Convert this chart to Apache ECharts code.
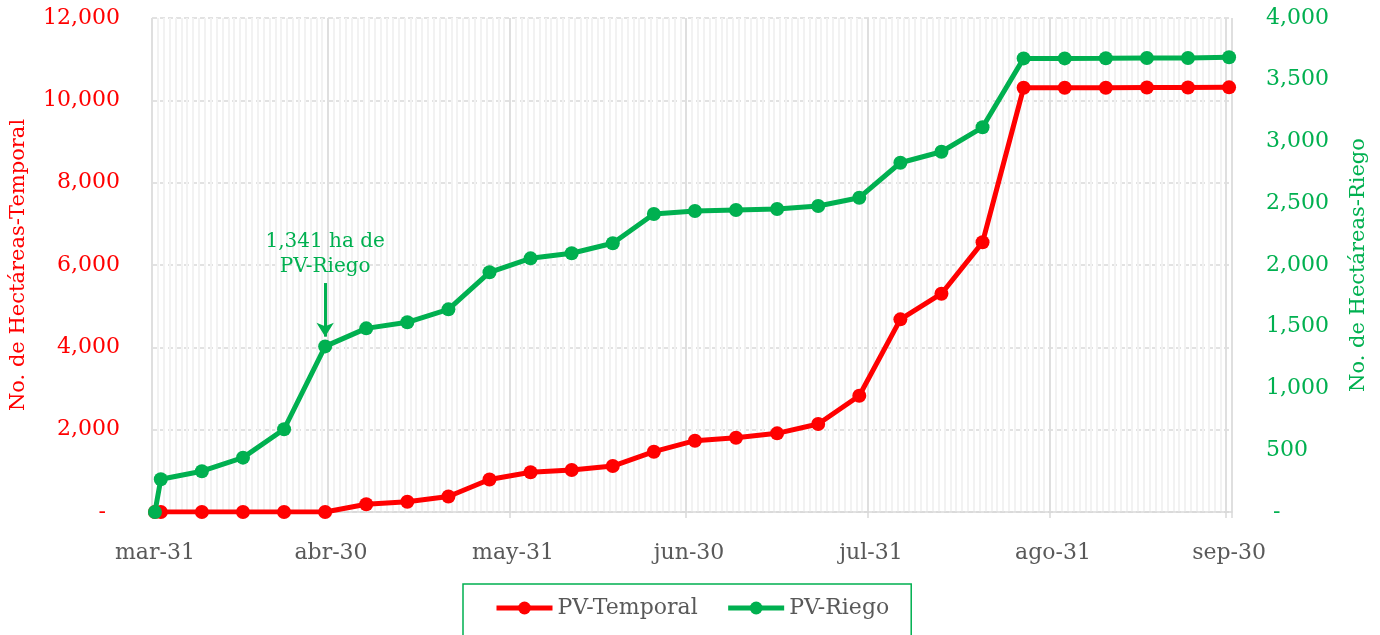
<!DOCTYPE html>
<html>
<head>
<meta charset="utf-8">
<script src="https://cdn.jsdelivr.net/npm/echarts@6/dist/echarts.min.js"></script>
<style>html,body{margin:0;padding:0;background:#fff}#c{width:1380px;height:635px}</style>
</head>
<body>
<div id="c"></div>
<script>
// Weekly observation dates (day-month, Spanish abbreviations)
const dates = ['mar-31','abr-01','abr-08','abr-15','abr-22','abr-29','may-06','may-13','may-20','may-27',
  'jun-03','jun-10','jun-17','jun-24','jul-01','jul-08','jul-15','jul-22','jul-29','ago-05','ago-12',
  'ago-19','ago-26','sep-02','sep-09','sep-16','sep-23','sep-30'];
const temporal = [0,0,0,0,0,0,190,250,375,790,964,1020,1117,1465,1732,1805,1911,2137,2825,4680,5303,6551,
  10306,10306,10306,10310,10310,10315];
const riego = [0,265,330,440,670,1341,1487,1536,1641,1941,2054,2095,2176,2413,2437,2445,2453,2478,2545,
  2828,2917,3115,3673,3673,3674,3676,3676,3682];
const tickLabels = ['mar-31','abr-30','may-31','jun-30','jul-31','ago-31','sep-30'];
const leftTicks = [0,2000,4000,6000,8000,10000,12000];
const rightTicks = [0,500,1000,1500,2000,2500,3000,3500,4000];
const annotation = {date:'abr-29', value:1341, text:'1,341 ha de\nPV-Riego', from:1854, to:1420};

// daily categories from 31-mar to 30-sep
const meses = ['ene','feb','mar','abr','may','jun','jul','ago','sep','oct','nov','dic'];
const days = [];
for (let t = Date.UTC(2021,2,31); t <= Date.UTC(2021,8,30); t += 86400000) {
  const d = new Date(t);
  days.push(meses[d.getUTCMonth()] + '-' + String(d.getUTCDate()).padStart(2,'0'));
}
const majorIdx = new Set(tickLabels.map(l => days.indexOf(l)));

const RED = '#ff0000', GREEN = '#00b050', GRAY = '#595959', GRID = '#d9d9d9';
const FONT = 'DejaVu Serif';
const fmt = v => v === 0 ? null : v.toLocaleString('en-US');

const chart = echarts.init(document.getElementById('c'), null, {renderer:'canvas'});
chart.setOption({
  animation:false,
  textStyle:{fontFamily:FONT},
  grid:{left:152, right:148, top:18, bottom:123},
  legend:{
    left:463, top:584, padding:[13,22,30,31],
    borderColor:GREEN, borderWidth:1.5, itemGap:28,
    itemWidth:56, itemHeight:16,
    lineStyle:{width:5},
    textStyle:{fontFamily:FONT, fontSize:22, color:GRAY},
    data:['PV-Temporal','PV-Riego']
  },
  xAxis:[
    {type:'category', data:days, position:'top', boundaryGap:true,
     axisLine:{show:false}, axisTick:{show:false}, axisLabel:{show:false},
     splitLine:{show:true, interval:0, lineStyle:{color:'#f2f2f2', width:2}}},
    {type:'category', data:days, position:'bottom', boundaryGap:true,
     axisLine:{show:true, lineStyle:{color:GRID, width:1.5}},
     axisTick:{show:true, interval:(i)=>majorIdx.has(i), length:6, lineStyle:{color:GRID, width:1.5}},
     axisLabel:{show:true, interval:(i)=>majorIdx.has(i), margin:30, color:GRAY, fontSize:22, fontFamily:FONT},
     splitLine:{show:true, interval:(i)=>majorIdx.has(i), lineStyle:{color:GRID, width:1.5}}}
  ],
  yAxis:[
    {type:'value', min:leftTicks[0], max:leftTicks[leftTicks.length-1], interval:2000, position:'left',
     name:'No. de Hectáreas-Temporal', nameLocation:'middle', nameGap:123,
     nameTextStyle:{color:RED, fontSize:21, fontFamily:FONT},
     axisLine:{show:false}, axisTick:{show:false},
     axisLabel:{color:RED, fontSize:22, margin:32, fontFamily:FONT, formatter:v => v===0 ? '-  ' : fmt(v)},
     splitLine:{show:true, lineStyle:{color:GRID, width:1.5, type:[5,3]}}},
    {type:'value', min:rightTicks[0], max:rightTicks[rightTicks.length-1], interval:500, position:'right',
     name:'No. de Hectáreas-Riego', nameLocation:'middle', nameGap:116,
     nameTextStyle:{color:GREEN, fontSize:21, fontFamily:FONT},
     axisLine:{show:false}, axisTick:{show:false},
     axisLabel:{color:GREEN, fontSize:22, margin:34, fontFamily:FONT, formatter:v => v===0 ? ' -' : fmt(v)},
     splitLine:{show:false}}
  ],
  series:[
    {name:'PV-Temporal', type:'line', xAxisIndex:1, yAxisIndex:0,
     data:dates.map((d,i)=>[d, temporal[i]]),
     symbol:'circle', symbolSize:14, showSymbol:true, showAllSymbol:true, color:RED,
     lineStyle:{color:RED, width:5}, itemStyle:{color:RED}, z:2},
    {name:'PV-Riego', type:'line', xAxisIndex:1, yAxisIndex:1,
     data:dates.map((d,i)=>[d, riego[i]]),
     symbol:'circle', symbolSize:14, showSymbol:true, showAllSymbol:true, color:GREEN,
     lineStyle:{color:GREEN, width:5}, itemStyle:{color:GREEN}, z:3,
     markLine:{
       silent:true, symbol:['none','arrow'], symbolSize:[13,14],
       lineStyle:{color:GREEN, width:3, type:'solid'},
       label:{show:true, position:'start', formatter:annotation.text, color:GREEN,
              fontSize:20, lineHeight:25, fontFamily:FONT, distance:4},
       data:[[{coord:[annotation.date, annotation.from]}, {coord:[annotation.date, annotation.to]}]]
     }}
  ]
});
</script>
</body>
</html>
